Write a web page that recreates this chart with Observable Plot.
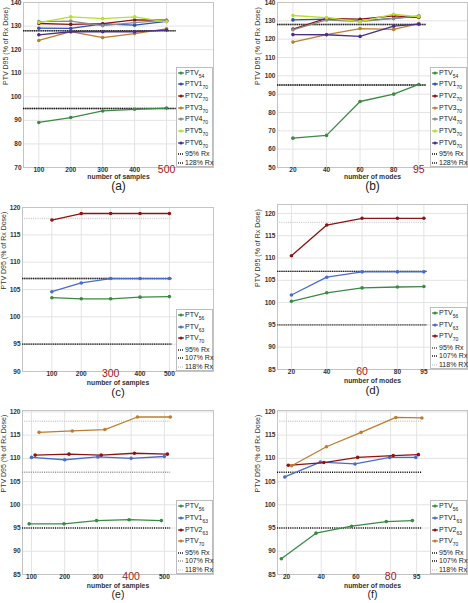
<!DOCTYPE html>
<html><head><meta charset="utf-8">
<script src="https://cdn.jsdelivr.net/npm/d3@7"></script>
<script src="https://cdn.jsdelivr.net/npm/@observablehq/plot@0.6"></script>
<style>
body{margin:0;background:#fff;font-family:"Liberation Sans",Arial,sans-serif}
#root{position:relative;width:468px;height:603px;overflow:hidden;background:#fff}
.panel{position:absolute}
.legend{position:absolute;background:#fff;border:1px solid #bdbdbd;box-sizing:border-box;font-size:7px;color:#222;padding:1px 0 0 1px}
.row{position:relative;white-space:nowrap}
.row svg{position:absolute;left:0;top:0}
.row .t{position:absolute;left:7px;top:0;line-height:8px}
.row .s{font-size:5px;position:relative;top:3px}
</style></head><body><div id="root"></div>
<script>
// ---------- data ----------
const samples = [100, 200, 300, 400, 500];
const modes = [20, 40, 60, 80, 95];
const yTicksA = [70, 80, 90, 100, 110, 120, 130, 140];
const yTicksB = [50, 60, 70, 80, 90, 100, 110, 120, 130, 140];
const yTicksC = [90, 95, 100, 105, 110, 115, 120];
const yTicksDEF = [85, 90, 95, 100, 105, 110, 115, 120];
const xLabelSamples = "number of samples";
const xLabelModes = "number of modes";
const yLabel = "PTV D95 (% of Rx Dose)";

// (a) vs number of samples
const a_PTV54  = [89.1, 91.2, 94.0, 94.7, 95.2];
const a_PTV1_70 = [129.1, 129.0, 130.9, 130.4, 132.0];
const a_PTV2_70 = [131.1, 130.7, 131.0, 132.6, 132.5];
const a_PTV3_70 = [123.9, 127.6, 125.1, 126.8, 128.8];
const a_PTV4_70 = [131.9, 132.1, 130.2, 131.5, 132.5];
const a_PTV5_70 = [131.5, 133.9, 133.2, 133.9, 131.8];
const a_PTV6_70 = [126.3, 127.6, 127.6, 127.6, 128.3];
// (b) vs number of modes
const b_PTV54  = [66.0, 67.5, 86.0, 90.0, 95.3];
const b_PTV1_70 = [130.5, 130.9, 130.0, 131.3, 132.4];
const b_PTV2_70 = [125.5, 131.3, 130.9, 132.7, 131.8];
const b_PTV3_70 = [118.4, 122.5, 125.8, 125.3, 128.5];
const b_PTV4_70 = [125.1, 130.5, 129.6, 131.3, 132.7];
const b_PTV5_70 = [132.9, 131.8, 129.5, 133.6, 132.2];
const b_PTV6_70 = [122.5, 122.4, 121.5, 127.1, 128.2];
// (c) vs number of samples
const c_PTV56 = [103.5, 103.3, 103.3, 103.6, 103.7];
const c_PTV63 = [104.6, 106.2, 107.0, 107.0, 107.0];
const c_PTV70 = [117.7, 118.9, 118.9, 118.9, 118.9];
// (d) vs number of modes
const d_PTV56 = [100.3, 102.2, 103.3, 103.5, 103.6];
const d_PTV63 = [101.7, 105.7, 106.9, 106.9, 106.9];
const d_PTV70 = [110.5, 117.4, 118.9, 118.9, 118.9];
// (e) vs number of samples (series slightly offset in x)
const e_x_PTV56   = [93, 198, 296, 394, 491];
const e_x_PTV1_63 = [100, 200, 300, 400, 500];
const e_x_PTV2_63 = [111, 213, 310, 410, 509];
const e_x_PTV70   = [123, 223, 321, 419, 518];
const e_PTV56   = [95.9, 95.9, 96.6, 96.8, 96.6];
const e_PTV1_63 = [110.2, 109.7, 110.3, 110.0, 110.4];
const e_PTV2_63 = [110.7, 110.9, 110.7, 111.1, 110.9];
const e_PTV70   = [115.6, 115.9, 116.2, 118.9, 118.9];
// (f) vs number of modes (series slightly offset in x)
const f_x_PTV56   = [17, 37, 57.5, 77.5, 92.5];
const f_x_PTV1_63 = [19, 39.5, 59.5, 79.5, 94.5];
const f_x_PTV2_63 = [21, 41.5, 61, 81.5, 96];
const f_x_PTV70   = [23, 43, 63, 83, 98];
const f_PTV56   = [88.4, 93.9, 95.4, 96.4, 96.6];
const f_PTV1_63 = [106.0, 109.2, 108.8, 110.2, 110.2];
const f_PTV2_63 = [108.5, 109.1, 110.2, 110.6, 110.8];
const f_PTV70   = [108.4, 112.5, 115.6, 118.8, 118.7];

// ---------- styles ----------
const GREEN = "#3b8a44", BLUE = "#2f4fb3", BLUE2 = "#4a6cc9", RED = "#8c1414",
      ORANGE = "#bd7d2e", GREY = "#8a8a8a", LIME = "#b6e02c", PURPLE = "#4b2d8c";
const HL = "#a31818";

const ref = (v, label, color, under) => ({v, label, color, under});

const panels = [
  {letter:"(a)", left:0, top:0, width:234, height:200, mt:2, mb:33, ml:23, mr:21,
   xDomain:[52,647], yDomain:[70,140], xTicks:samples, yTicks:yTicksA, hl:500, xlabel:xLabelSamples,
   refEnd:530, labelDy:11.5, letterDy:22, letterSize:12, ydx:-18,
   series:[
     {n:"PTV",s:"54",c:GREEN,x:samples,y:a_PTV54},
     {n:"PTV1",s:"70",c:BLUE,x:samples,y:a_PTV1_70},
     {n:"PTV2",s:"70",c:RED,x:samples,y:a_PTV2_70},
     {n:"PTV3",s:"70",c:ORANGE,x:samples,y:a_PTV3_70},
     {n:"PTV4",s:"70",c:GREY,x:samples,y:a_PTV4_70},
     {n:"PTV5",s:"70",c:LIME,x:samples,y:a_PTV5_70},
     {n:"PTV6",s:"70",c:PURPLE,x:samples,y:a_PTV6_70}],
   refs:[ref(95,"95% Rx","#111","#9a9a9a"), ref(128,"128% Rx","#222","#9a9a9a")]},
  {letter:"(b)", left:234, top:0, width:234, height:200, mt:2, mb:33, ml:43, mr:1,
   xDomain:[10.8,124], yDomain:[50,140], xTicks:modes, yTicks:yTicksB, hl:95, xlabel:xLabelModes,
   refEnd:99.5, labelDy:11.5, letterDy:22, letterSize:12, ydx:-20,
   series:[
     {n:"PTV",s:"54",c:GREEN,x:modes,y:b_PTV54},
     {n:"PTV1",s:"70",c:BLUE,x:modes,y:b_PTV1_70},
     {n:"PTV2",s:"70",c:RED,x:modes,y:b_PTV2_70},
     {n:"PTV3",s:"70",c:ORANGE,x:modes,y:b_PTV3_70},
     {n:"PTV4",s:"70",c:GREY,x:modes,y:b_PTV4_70},
     {n:"PTV5",s:"70",c:LIME,x:modes,y:b_PTV5_70},
     {n:"PTV6",s:"70",c:PURPLE,x:modes,y:b_PTV6_70}],
   refs:[ref(95,"95% Rx","#111","#9a9a9a"), ref(128,"128% Rx","#222","#9a9a9a")]},
  {letter:"(c)", left:0, top:200, width:234, height:205, mt:7, mb:34, ml:22, mr:21,
   xDomain:[0,650], yDomain:[90,120], xTicks:samples, yTicks:yTicksC, hl:300, xlabel:xLabelSamples,
   refEnd:510, labelDy:13.5, letterDy:24, letterSize:11.5, ydx:-19,
   series:[
     {n:"PTV",s:"56",c:GREEN,x:samples,y:c_PTV56},
     {n:"PTV",s:"63",c:BLUE2,x:samples,y:c_PTV63},
     {n:"PTV",s:"70",c:RED,x:samples,y:c_PTV70}],
   refs:[ref(95,"95% Rx","#222","#a0a0a0"), ref(107,"107% Rx","#222","#a0a0a0"), ref(118,"118% Rx","#cfcfcf",null)]},
  {letter:"(d)", left:234, top:200, width:234, height:205, mt:4, mb:36, ml:43, mr:1,
   xDomain:[12.1,119.7], yDomain:[85,122], xTicks:modes, yTicks:yTicksDEF, hl:60, xlabel:xLabelModes,
   refEnd:97, labelDy:13.5, letterDy:24, letterSize:11.5, ydx:-20,
   series:[
     {n:"PTV",s:"56",c:GREEN,x:modes,y:d_PTV56},
     {n:"PTV",s:"63",c:BLUE2,x:modes,y:d_PTV63},
     {n:"PTV",s:"70",c:RED,x:modes,y:d_PTV70}],
   refs:[ref(95,"95% Rx","#555","#aaaaaa"), ref(107,"107% Rx","#222","#a0a0a0"), ref(118,"118% RX","#cfcfcf",null)]},
  {letter:"(e)", left:0, top:404, width:234, height:199, mt:6, mb:29, ml:22, mr:21,
   xDomain:[73,648], yDomain:[85,120.3], xTicks:samples, yTicks:yTicksDEF, hl:400, xlabel:xLabelSamples,
   refEnd:519, labelDy:13.5, letterDy:23.5, letterSize:10.5, ydx:-19,
   series:[
     {n:"PTV",s:"56",c:GREEN,x:e_x_PTV56,y:e_PTV56},
     {n:"PTV1",s:"63",c:BLUE2,x:e_x_PTV1_63,y:e_PTV1_63},
     {n:"PTV2",s:"63",c:RED,x:e_x_PTV2_63,y:e_PTV2_63},
     {n:"PTV",s:"70",c:ORANGE,x:e_x_PTV70,y:e_PTV70}],
   refs:[ref(95,"95% Rx","#111",null), ref(107,"107% Rx","#9a9a9a",null), ref(118,"118% Rx","#cfcfcf",null)]},
  {letter:"(f)", left:234, top:404, width:234, height:199, mt:6, mb:29, ml:43, mr:1,
   xDomain:[14.8,124.3], yDomain:[85,120.3], xTicks:modes, yTicks:yTicksDEF, hl:80, xlabel:xLabelModes,
   refEnd:98.3, labelDy:13.5, letterDy:23.5, letterSize:10.5, ydx:-20,
   series:[
     {n:"PTV",s:"56",c:GREEN,x:f_x_PTV56,y:f_PTV56},
     {n:"PTV1",s:"63",c:BLUE2,x:f_x_PTV1_63,y:f_PTV1_63},
     {n:"PTV2",s:"63",c:RED,x:f_x_PTV2_63,y:f_PTV2_63},
     {n:"PTV",s:"70",c:ORANGE,x:f_x_PTV70,y:f_PTV70}],
   refs:[ref(95,"95% Rx","#111",null), ref(107,"107% Rx","#111",null), ref(118,"118% Rx","#cfcfcf",null)]}
];

const root = document.getElementById("root");

for (const p of panels) {
  const marks = [
    Plot.gridX(p.xTicks, {stroke:"#e3e3e3", strokeOpacity:1}),
    Plot.gridY(p.yTicks, {stroke:"#e3e3e3", strokeOpacity:1}),
    Plot.frame({stroke:"#c4c4c4"}),
    Plot.axisX(p.xTicks, {tickSize:0, tickPadding:0, fontSize:6.5, fontWeight:"bold",
      tickFormat: d => d === p.hl ? "" : String(d)}),
    Plot.axisY(p.yTicks, {tickSize:0, tickPadding:2, fontSize:6.5, fontWeight:"bold"})
  ];
  const refRows = p.refs.map(r => ({...r, x1:p.xDomain[0], x2:p.refEnd}));
  for (const r of refRows) {
    if (r.under) marks.push(Plot.ruleY([r], {y:"v", x1:"x1", x2:"x2", stroke:r.under, strokeWidth:1.4}));
    marks.push(Plot.ruleY([r], {y:"v", x1:"x1", x2:"x2", stroke:r.color, strokeWidth:1.4, strokeDasharray:"1.1,1.1"}));
  }
  for (const s of p.series) {
    const rows = s.x.map((x, i) => ({x, y:s.y[i]}));
    marks.push(Plot.line(rows, {x:"x", y:"y", stroke:s.c, strokeWidth:1.3}));
    marks.push(Plot.dot(rows, {x:"x", y:"y", fill:s.c, r:1.8}));
  }
  marks.push(Plot.text([p.hl], {x:d => d, text:d => String(d), frameAnchor:"bottom", lineAnchor:"top", dy:-1.5, fill:HL, fontSize:10.5}));
  marks.push(Plot.text([p.xlabel], {text:d => d, frameAnchor:"bottom", dy:p.labelDy, fontSize:6.8, fontWeight:"bold", fill:"#333"}));
  marks.push(Plot.text([p.letter], {text:d => d, frameAnchor:"bottom", dy:p.letterDy, fontSize:p.letterSize, fill:"#222"}));
  marks.push(Plot.text([yLabel], {text:d => d, frameAnchor:"left", dx:p.ydx, rotate:-90, fontSize:7, fill:"#333"}));

  const svg = Plot.plot({
    width:p.width, height:p.height,
    marginTop:p.mt, marginBottom:p.mb, marginLeft:p.ml, marginRight:p.mr,
    x:{domain:p.xDomain}, y:{domain:p.yDomain},
    style:{fontFamily:'"Liberation Sans", Arial, sans-serif', color:"#333", background:"transparent", overflow:"visible"},
    marks
  });
  const wrap = document.createElement("div");
  wrap.className = "panel";
  wrap.style.left = p.left + "px"; wrap.style.top = p.top + "px";
  wrap.appendChild(svg);
  root.appendChild(wrap);

  // legend (HTML), anchored to frame bottom-right
  const PH = 11.7, RH = 8.3, LW = 37;
  const lh = p.series.length * PH + p.refs.length * RH + 2;
  const lg = document.createElement("div");
  lg.className = "legend";
  lg.style.width = LW + "px";
  lg.style.height = lh + "px";
  lg.style.left = (p.left + p.width - p.mr - LW) + "px";
  lg.style.top = (p.top + p.height - p.mb - lh) + "px";
  let html = "";
  for (const s of p.series) {
    html += `<div class="row" style="height:${PH}px"><svg width="7" height="8"><line x1="0" x2="6" y1="4" y2="4" stroke="${s.c}" stroke-width="1.2"/><circle cx="3" cy="4" r="1.6" fill="${s.c}"/></svg><span class="t">${s.n}<span class="s">${s.s}</span></span></div>`;
  }
  for (const r of p.refs) {
    html += `<div class="row" style="height:${RH}px"><svg width="7" height="8"><line x1="0" x2="6" y1="4" y2="4" stroke="${r.color}" stroke-width="1.3" stroke-dasharray="1,1"/></svg><span class="t">${r.label}</span></div>`;
  }
  lg.innerHTML = html;
  root.appendChild(lg);
}
</script>
</body></html>
